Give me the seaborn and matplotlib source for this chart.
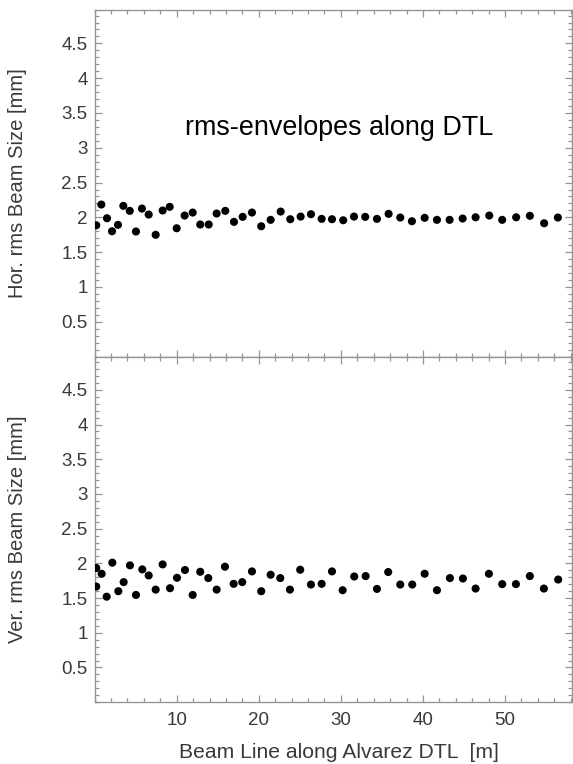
import matplotlib
matplotlib.use("Agg")
import matplotlib.pyplot as plt
import seaborn as sns
import pandas as pd
from matplotlib.ticker import MultipleLocator

# ---- data ----
z_hor = [0.2, 0.82, 1.51, 2.12, 2.85, 3.50, 4.28, 5.04, 5.77, 6.59, 7.44, 8.29,
         9.15, 10.0, 10.97, 11.95, 12.87, 13.90, 14.87, 15.92, 16.98, 18.04,
         19.17, 20.30, 21.45, 22.67, 23.84, 25.10, 26.36, 27.66, 28.92, 30.29,
         31.60, 32.97, 34.40, 35.82, 37.24, 38.66, 40.21, 41.71, 43.25, 44.84,
         46.42, 48.08, 49.66, 51.36, 53.03, 54.77, 56.44]
hor_rms = [1.886, 2.184, 1.987, 1.800, 1.892, 2.165, 2.093, 1.796, 2.126, 2.040,
           1.749, 2.098, 2.151, 1.843, 2.026, 2.069, 1.897, 1.897, 2.055, 2.093,
           1.935, 2.007, 2.069, 1.872, 1.964, 2.083, 1.973, 2.011, 2.045, 1.978,
           1.973, 1.958, 2.011, 2.007, 1.978, 2.050, 1.997, 1.944, 1.993, 1.964,
           1.964, 1.983, 2.001, 2.026, 1.964, 2.001, 2.022, 1.915, 1.997]

z_ver = [0.2, 0.2, 0.86, 1.47, 2.16, 2.89, 3.54, 4.31, 5.04, 5.81, 6.59, 7.44,
         8.29, 9.19, 10.04, 11.01, 11.95, 12.87, 13.85, 14.87, 15.88, 16.94,
         17.99, 19.17, 20.30, 21.45, 22.62, 23.80, 25.05, 26.36, 27.66, 28.92,
         30.22, 31.63, 33.02, 34.40, 35.77, 37.24, 38.70, 40.21, 41.71, 43.29,
         44.87, 46.42, 48.04, 49.66, 51.33, 53.03, 54.74, 56.48]
ver_rms = [1.933, 1.666, 1.850, 1.520, 2.010, 1.599, 1.730, 1.971, 1.545, 1.913,
           1.826, 1.622, 1.985, 1.642, 1.792, 1.904, 1.545, 1.879, 1.788, 1.622,
           1.952, 1.705, 1.730, 1.884, 1.599, 1.836, 1.788, 1.622, 1.908, 1.695,
           1.705, 1.884, 1.613, 1.811, 1.817, 1.632, 1.875, 1.695, 1.695, 1.850,
           1.613, 1.788, 1.782, 1.637, 1.850, 1.701, 1.701, 1.817, 1.637, 1.767]

x_ticks = [10, 20, 30, 40, 50]
y_ticks = [0.5, 1, 1.5, 2, 2.5, 3, 3.5, 4, 4.5]
y_tick_labels = ["0.5", "1", "1.5", "2", "2.5", "3", "3.5", "4", "4.5"]

title_text = "rms-envelopes along DTL"
xlabel = "Beam Line along Alvarez DTL  [m]"
ylabel_top = "Hor. rms Beam Size [mm]"
ylabel_bot = "Ver. rms Beam Size [mm]"

df_h = pd.DataFrame({"z": z_hor, "rms": hor_rms})
df_v = pd.DataFrame({"z": z_ver, "rms": ver_rms})

# ---- style ----
sns.set_style("white")
plt.rcParams["font.family"] = ["Liberation Sans", "DejaVu Sans"]

W, H = 573, 764
fig = plt.figure(figsize=(W / 100, H / 100), dpi=100)
left = 94.6 / W
right = 572.3 / W
ax1 = fig.add_axes([left, 1 - 356.5 / H, right - left, (356.5 - 10) / H])
ax2 = fig.add_axes([left, 1 - 702.2 / H, right - left, (702.2 - 356.5) / H])

spine_col = "#959595"
text_col = "#3a3a3a"

for ax, df in ((ax1, df_h), (ax2, df_v)):
    sns.scatterplot(data=df, x="z", y="rms", ax=ax, color="black", s=34,
                    edgecolor="none", linewidth=0, legend=False, clip_on=True,
                    zorder=3)
    ax.set_xlim(0, 58.2)
    ax.set_ylim(0, 4.98)
    ax.set_xticks(x_ticks)
    ax.set_yticks(y_ticks)
    ax.set_yticklabels(y_tick_labels)
    ax.xaxis.set_minor_locator(MultipleLocator(2))
    ax.yaxis.set_minor_locator(MultipleLocator(0.1))
    ax.tick_params(which="both", direction="in", top=True, right=True,
                   bottom=True, left=True, color=spine_col, width=0.9)
    ax.tick_params(which="major", length=5.0, labelsize=13.5,
                   labelcolor=text_col, pad=5)
    ax.tick_params(which="minor", length=2.6)
    for sp in ax.spines.values():
        sp.set_color(spine_col)
        sp.set_linewidth(1.0)
    ax.set_xlabel("")
    ax.set_ylabel("")
    ax.grid(False)

ax1.tick_params(axis="x", labelbottom=False)
ax2.tick_params(axis="x", pad=7)

ax1.set_ylabel(ylabel_top, fontsize=14.5, color=text_col, ha="center", va="center")
ax2.set_ylabel(ylabel_bot, fontsize=14.5, color=text_col, ha="center", va="center")
lx = (18 - 94.6) / (572.3 - 94.6)
ax1.yaxis.set_label_coords(lx, 0.5)
ax2.yaxis.set_label_coords(lx, 0.5)

ax2.set_xlabel(xlabel, fontsize=15.2, color=text_col, ha="center", va="center")
ax2.xaxis.set_label_coords((339 - 94.6) / (572.3 - 94.6), -(752 - 702.2) / (702.2 - 356.5))

ax1.text((339 - 94.6) / (572.3 - 94.6), (356.5 - 128) / (356.5 - 10), title_text,
         transform=ax1.transAxes, ha="center", va="center", fontsize=19.4,
         color="black")

fig.savefig("out.png", dpi=100)
